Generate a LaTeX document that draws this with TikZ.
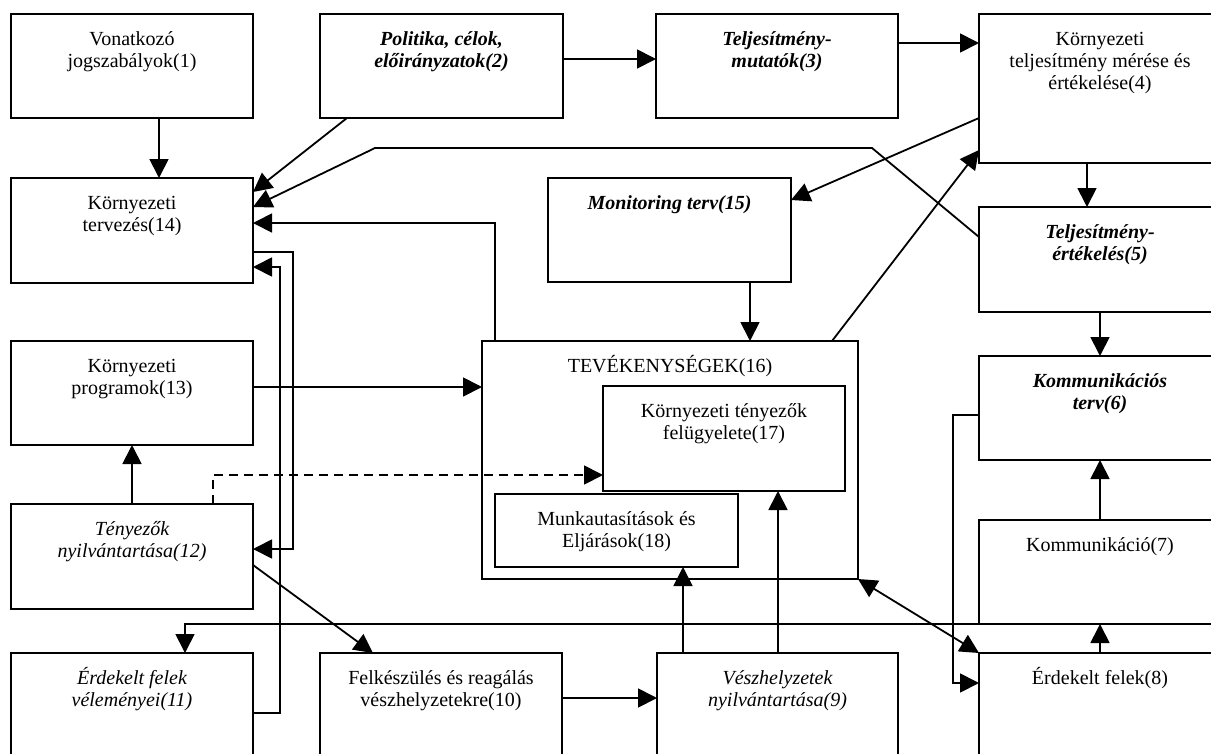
\documentclass[tikz,border=0pt]{standalone}
\usepackage{fontspec}
\setmainfont{Liberation Serif}
\usetikzlibrary{arrows.meta}
\newcommand\firstln[1]{\strut\smash{#1}}
\newcommand\bx[5]{\node[box, minimum width={(#4-#2)*1pt}, minimum height={(#5-#3)*1pt}] (#1) at ({(#2+#4)/2},{(#3+#5)/2}) {};}
\begin{document}
\begin{tikzpicture}[x=1pt,y=-1pt,
  box/.style={draw, line width=2pt, inner sep=0pt, outer sep=0pt, rectangle},
  txt/.style={anchor=north, align=center, inner sep=0pt, font=\fontsize{20}{22}\selectfont},
  itx/.style={txt, font=\fontsize{20}{22}\selectfont\itshape},
  bix/.style={txt, font=\fontsize{20}{22}\selectfont\bfseries\itshape},
  conn/.style={line width=1.8pt},
  arr/.style={conn, -{Triangle[length=19pt,width=19pt]}},
  darr/.style={conn, {Triangle[length=19pt,width=19pt]}-{Triangle[length=19pt,width=19pt]}},
]
\fill[white] (0,0) rectangle (1211,753);
\useasboundingbox (0,0) rectangle (1211,753);

% boxes
\bx{b1}{11}{14}{253}{118}
\bx{b2}{320}{14}{563}{118}
\bx{b3}{656}{14}{898}{118}
\bx{b4}{979}{14}{1221}{163}
\bx{b5}{979}{207}{1221}{312}
\bx{b6}{979}{356}{1221}{460}
\bx{b7}{979}{520}{1221}{624}
\bx{b8}{979}{653}{1221}{758}
\bx{b9}{657}{653}{898}{758}
\bx{b10}{320}{653}{562}{758}
\bx{b11}{11}{653}{253}{758}
\bx{b12}{11}{504}{253}{609}
\bx{b13}{11}{341}{253}{445}
\bx{b14}{11}{178}{253}{283}
\bx{b15}{548}{178}{791}{282}
\bx{b16}{482}{341}{858}{579}
\bx{b17}{603}{386}{845}{491}
\bx{b18}{495}{494}{738}{567}

% texts
\node[txt] (t1) at ([yshift=-16pt]b1.north) {\firstln{Vonatkozó}\\jogszabályok(1)};
\node[bix] (t2) at ([yshift=-16pt]b2.north) {\firstln{Politika, célok,}\\előirányzatok(2)};
\node[bix] (t3) at ([yshift=-16pt]b3.north) {\firstln{Teljesítmény-}\\mutatók(3)};
\node[txt] (t4) at ([yshift=-16pt]b4.north) {\firstln{Környezeti}\\teljesítmény mérése és\\értékelése(4)};
\node[bix] (t5) at ([yshift=-16pt]b5.north) {\firstln{Teljesítmény-}\\értékelés(5)};
\node[bix] (t6) at ([yshift=-16pt]b6.north) {\firstln{Kommunikációs}\\terv(6)};
\node[txt] (t7) at ([yshift=-16pt]b7.north) {\firstln{Kommunikáció(7)}};
\node[txt] (t8) at ([yshift=-16pt]b8.north) {\firstln{Érdekelt felek(8)}};
\node[itx] (t9) at ([yshift=-16pt]b9.north) {\firstln{Vészhelyzetek}\\nyilvántartása(9)};
\node[txt] (t10) at ([yshift=-16pt]b10.north) {\firstln{Felkészülés és reagálás}\\vészhelyzetekre(10)};
\node[itx] (t11) at ([yshift=-16pt]b11.north) {\firstln{Érdekelt felek}\\véleményei(11)};
\node[itx] (t12) at ([yshift=-16pt]b12.north) {\firstln{Tényezők}\\nyilvántartása(12)};
\node[txt] (t13) at ([yshift=-16pt]b13.north) {\firstln{Környezeti}\\programok(13)};
\node[txt] (t14) at ([yshift=-16pt]b14.north) {\firstln{Környezeti}\\tervezés(14)};
\node[bix] (t15) at ([yshift=-16pt]b15.north) {\firstln{Monitoring terv(15)}};
\node[txt] (t16) at ([yshift=-16pt]b16.north) {\firstln{TEVÉKENYSÉGEK(16)}};
\node[txt] (t17) at ([yshift=-16pt]b17.north) {\firstln{Környezeti tényezők}\\felügyelete(17)};
\node[txt] (t18) at ([yshift=-16pt]b18.north) {\firstln{Munkautasítások és}\\Eljárások(18)};

% connectors
\draw[arr] (b1.south -| 159,0) -- (b14.north -| 159,0);
\draw[arr] (b2.east |- 0,59) -- (b3.west |- 0,59);
\draw[arr] (b3.east |- 0,43) -- (b4.west |- 0,43);
\draw[arr] (b2.south -| 347,0) -- (b14.east |- 0,192);
\draw[arr] (b5.west |- 0,237) -- (872,148) -- (375,148) -- (b14.east |- 0,207);
\draw[arr] (b16.north -| 495,0) -- (495,223) -- (b14.east |- 0,223);
\draw[arr] (b14.east |- 0,252) -- (293,252) -- (293,549) -- (b12.east |- 0,549);
\draw[arr] (b11.east |- 0,713) -- (280,713) -- (280,267) -- (b14.east |- 0,267);
\draw[arr] (b12.north) -- (b13.south);
\draw[arr, dash pattern=on 9pt off 6pt] (b12.north -| 213,0) -- (213,475) -- (b17.west |- 0,475);
\draw[arr] (b13.east |- 0,387) -- (b16.west |- 0,387);
\draw[arr] (b12.east |- 0,565) -- (b10.north -| 373,0);
\draw[arr] (b4.west |- 0,118) -- (b15.east |- 0,200);
\draw[arr] (b16.north -| 832,0) -- (b4.west |- 0,150);
\draw[arr] (b4.south -| 1087,0) -- (b5.north -| 1087,0);
\draw[arr] (b5.south) -- (b6.north);
\draw[arr] (b15.south -| 750,0) -- (b16.north -| 750,0);
\draw[arr] (b7.north) -- (b6.south);
\draw[arr] (b8.north) -- (b7.south);
\draw[arr] (b6.west |- 0,415) -- (953,415) -- (953,683) -- (b8.west |- 0,683);
\draw[darr] (b16.south east) -- (b8.north west);
\draw[arr] (b7.south east) -- (185,624) -- (b11.north -| 185,0);
\draw[arr] (b10.east |- 0,698) -- (b9.west |- 0,698);
\draw[arr] (b9.north -| 683,0) -- (b18.south -| 683,0);
\draw[arr] (b9.north -| 778,0) -- (b17.south -| 778,0);
\end{tikzpicture}
\end{document}
